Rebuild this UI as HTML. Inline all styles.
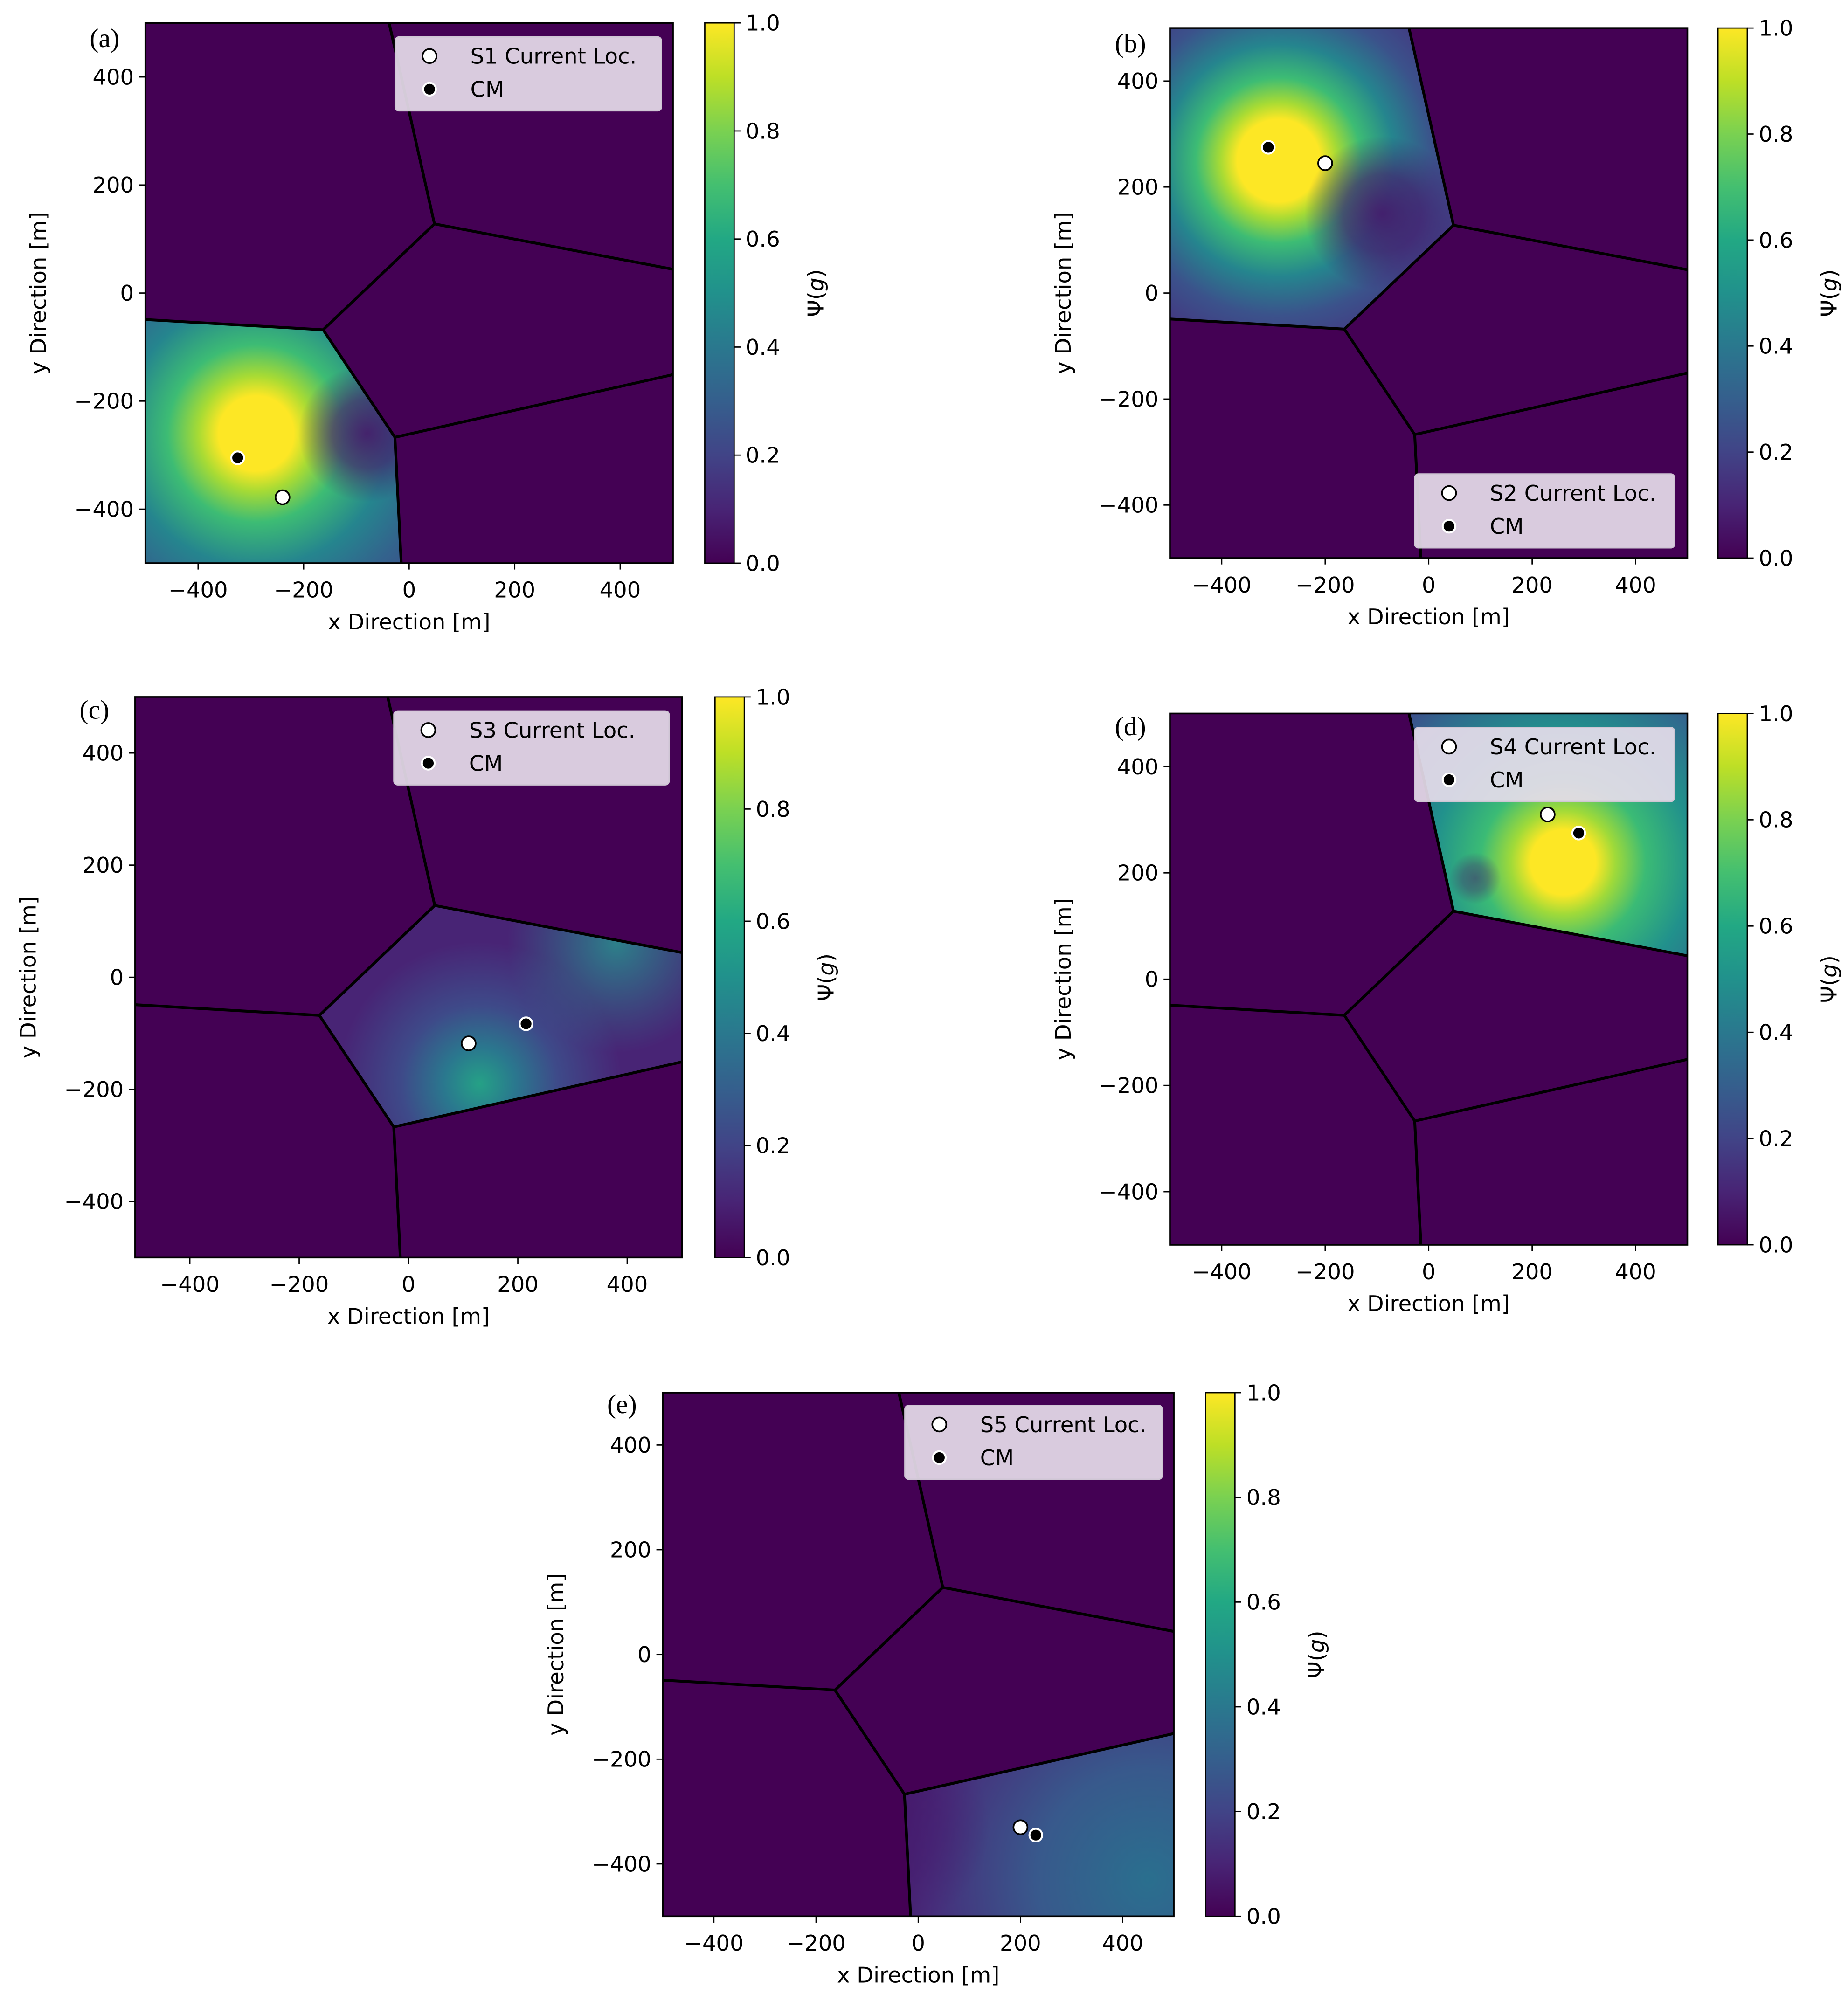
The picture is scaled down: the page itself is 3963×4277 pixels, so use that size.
<!DOCTYPE html>
<html><head><meta charset="utf-8">
<style>
html,body{margin:0;padding:0;background:#fff;}
svg{display:block;}
text{font-family:"DejaVu Sans","Liberation Sans",sans-serif;fill:#000;}
text.serif{font-family:"Liberation Serif",serif;}
</style></head>
<body>
<svg id="fig" xmlns="http://www.w3.org/2000/svg" width="3963" height="4277" viewBox="0 0 1450 1565">
<defs>
<linearGradient id="viridis" x1="0" y1="1" x2="0" y2="0">
<stop offset="0" stop-color="#440154"/><stop offset="0.1" stop-color="#482475"/>
<stop offset="0.2" stop-color="#414487"/><stop offset="0.3" stop-color="#355f8d"/>
<stop offset="0.4" stop-color="#2a788e"/><stop offset="0.5" stop-color="#21918c"/>
<stop offset="0.6" stop-color="#22a884"/><stop offset="0.7" stop-color="#44bf70"/>
<stop offset="0.8" stop-color="#7ad151"/><stop offset="0.9" stop-color="#bddf26"/>
<stop offset="1" stop-color="#fde725"/>
</linearGradient>
</defs>
</svg>
<script>
// Shared Voronoi geometry (data coords, m)
const cellLL = [[-500,-49],[-163,-68],[-27,-267],[-15,-500],[-500,-500]];
const cellUL = [[-500,500],[-38,500],[48,128],[-163,-68],[-500,-49]];
const cellC  = [[48,128],[500,44],[500,-151],[-27,-267],[-163,-68]];
const cellUR = [[-38,500],[500,500],[500,44],[48,128]];
const cellLR = [[-27,-267],[500,-151],[500,-500],[-15,-500]];
const edges = [[[-38,500],[48,128]],[[48,128],[500,44]],[[48,128],[-163,-68]],[[-163,-68],[-500,-49]],[[-163,-68],[-27,-267]],[[-27,-267],[500,-151]],[[-27,-267],[-15,-500]]];
const xTicks = [-400,-200,0,200,400];
const yTicks = [-400,-200,0,200,400];
const cTicks = [0,0.2,0.4,0.6,0.8,1.0];
const panelLabels = ["(a)","(b)","(c)","(d)","(e)"];
const sensorNames = ["S1","S2","S3","S4","S5"];
const currentLocX = [-240,-200,110,230,200];
const currentLocY = [-378,245,-118,310,-330];
const cmX = [-325,-310,215,290,230];
const cmY = [-305,275,-83,275,-345];
const peakX = [-290,-290,130,260,450];
const peakY = [-260,250,-190,220,-430];
// low-value (dark) pockets inside active cells
const darkX = [-80,-90,null,90,-60];
const darkY = [-260,150,null,190,-330];
const darkR = [130,150,0,50,200];

const svg = document.getElementById('fig');
const NS = 'http://www.w3.org/2000/svg';
const defs = svg.querySelector('defs');
function mk(tag, attrs, parent){const e=document.createElementNS(NS,tag);for(const k in attrs)e.setAttribute(k,attrs[k]);(parent||svg).appendChild(e);return e;}
function fmt(v){return (v<0?'\u2212':'')+Math.abs(v);}

const panels = [
 {L:114,T:18,R:528,B:442,cb:553,lab:[82,30],leg:[310,29,209],cell:cellLL,stops:[[0,'#fde725'],[0.17,'#fde725'],[0.26,'#a8db34'],[0.4,'#3dbc74'],[0.6,'#25858e'],[0.8,'#33638d'],[1,'#3e4a89']],rad:420,dop:0.9},
 {L:918,T:22,R:1324,B:438,cb:1348,lab:[887,34],leg:[1110,372,204],cell:cellUL,stops:[[0,'#fde725'],[0.2,'#fde725'],[0.28,'#a8db34'],[0.4,'#3dbc74'],[0.56,'#25858e'],[0.75,'#3b528b'],[1,'#46307e']],rad:400,dop:0.9},
 {L:106,T:547,R:535,B:987,cb:561,lab:[74,557],leg:[309,558,216],cell:cellC,stops:[[0,'#25a186'],[0.25,'#2a788e'],[0.55,'#3e4a89'],[1,'#482475']],rad:260,dop:0},
 {L:918,T:560,R:1324,B:977,cb:1348,lab:[887,570],leg:[1110,571,204],cell:cellUR,stops:[[0,'#fde725'],[0.15,'#fde725'],[0.24,'#a0da39'],[0.38,'#3bbb75'],[0.6,'#21918c'],[0.85,'#31688e'],[1,'#3e4a89']],rad:420,dop:0.5},
 {L:520,T:1093,R:921,B:1504,cb:946,lab:[488,1102],leg:[710,1103,202],cell:cellLR,stops:[[0,'#2a6f8e'],[0.35,'#38598c'],[0.7,'#472d7b'],[1,'#46085c']],rad:620,dop:0.6}
];

panels.forEach((p,i)=>{
  const W=p.R-p.L,H=p.B-p.T;
  const sx=x=>p.L+(x+500)/1000*W, sy=y=>p.T+(500-y)/1000*H;
  const g=mk('g',{});
  
  
  const bg=mk('rect',{x:p.L,y:p.T,width:W,height:H,fill:'#440154'},g);
  
  
  const gid='rg'+i;
  const rg=mk('radialGradient',{id:gid,gradientUnits:'userSpaceOnUse',cx:sx(peakX[i]),cy:sy(peakY[i]),r:p.rad*W/1000},defs);
  p.stops.forEach(s=>mk('stop',{offset:s[0],'stop-color':s[1]},rg));
  const pts=p.cell.map(c=>sx(c[0])+','+sy(c[1])).join(' ');
  const poly=mk('polygon',{points:pts,fill:'url(#'+gid+')'},g);
  
  
  if(darkX[i]!==null && p.dop>0){
    const dg=mk('radialGradient',{id:'dk'+i,gradientUnits:'userSpaceOnUse',cx:sx(darkX[i]),cy:sy(darkY[i]),r:darkR[i]*W/1000},defs);
    mk('stop',{offset:0,'stop-color':'#46156a','stop-opacity':p.dop},dg);
    mk('stop',{offset:0.5,'stop-color':'#46156a','stop-opacity':p.dop*0.7},dg);
    mk('stop',{offset:1,'stop-color':'#46156a','stop-opacity':0},dg);
    mk('polygon',{points:pts,fill:'url(#dk'+i+')'},g);
  }
  if(i===2){
    const rg2=mk('radialGradient',{id:'rg2b',gradientUnits:'userSpaceOnUse',cx:sx(380),cy:sy(60),r:200*W/1000},defs);
    mk('stop',{offset:0,'stop-color':'#2a8a8c','stop-opacity':0.9},rg2);
    mk('stop',{offset:1,'stop-color':'#2a788e','stop-opacity':0},rg2);
    mk('polygon',{points:pts,fill:'url(#rg2b)'},g);
  }
  edges.forEach(e=>{
    const l=mk('line',{x1:sx(e[0][0]),y1:sy(e[0][1]),x2:sx(e[1][0]),y2:sy(e[1][1]),stroke:'#000','stroke-width':2.2},g);
    
    
  });
  mk('rect',{x:p.L,y:p.T,width:W,height:H,fill:'none',stroke:'#000','stroke-width':1.3},g);
  const cm=mk('circle',{cx:sx(cmX[i]),cy:sy(cmY[i]),r:5,fill:'#000',stroke:'#fff','stroke-width':1.5},g);
  
  
  const cl=mk('circle',{cx:sx(currentLocX[i]),cy:sy(currentLocY[i]),r:5.5,fill:'#fff',stroke:'#000','stroke-width':1.3},g);
  
  
  xTicks.forEach(v=>{
    mk('line',{x1:sx(v),y1:p.B,x2:sx(v),y2:p.B+5,stroke:'#000','stroke-width':1},g);
    const t=mk('text',{x:sx(v),y:p.B+27,'font-size':17,'text-anchor':'middle'},g);t.textContent=fmt(v);
    
    
  });
  yTicks.forEach(v=>{
    mk('line',{x1:p.L-5,y1:sy(v),x2:p.L,y2:sy(v),stroke:'#000','stroke-width':1},g);
    const t=mk('text',{x:p.L-9,y:sy(v)+6,'font-size':17,'text-anchor':'end'},g);t.textContent=fmt(v);
    
    
  });
  const xl=mk('text',{x:(p.L+p.R)/2,y:p.B+52,'font-size':17,'text-anchor':'middle'},g);xl.textContent='x Direction [m]';
  
  
  const yx=p.L-78, yy=(p.T+p.B)/2;
  const yl=mk('text',{x:yx,y:yy,'font-size':17,'text-anchor':'middle',transform:'rotate(-90 '+yx+' '+yy+')'},g);yl.textContent='y Direction [m]';
  
  
  const pl=mk('text',{x:p.lab[0],y:p.lab[1]+7,'font-size':21,'text-anchor':'middle','class':'serif'},g);pl.textContent=panelLabels[i];
  
  
  const cw=23;
  const cb=mk('rect',{x:p.cb,y:p.T,width:cw,height:H,fill:'url(#viridis)',stroke:'#000','stroke-width':1},g);
  
  
  cTicks.forEach(v=>{
    const yy2=p.B-v*H;
    mk('line',{x1:p.cb+cw,y1:yy2,x2:p.cb+cw+5,y2:yy2,stroke:'#000','stroke-width':1},g);
    const t=mk('text',{x:p.cb+cw+9,y:yy2+6,'font-size':17},g);t.textContent=v.toFixed(1);
    
    
  });
  const cx=p.cb+cw+70, cy=(p.T+p.B)/2;
  const ct=mk('text',{x:cx,y:cy,'font-size':17,'text-anchor':'middle',transform:'rotate(-90 '+cx+' '+cy+')'},g);
  ct.innerHTML='\u03A8(<tspan font-style="italic">g</tspan>)';
  
  
  const [lx,ly,lw]=p.leg;
  const lg=mk('g',{},g);
  
  
  mk('rect',{x:lx,y:ly,width:lw,height:58,rx:3,fill:'#e6dcea','fill-opacity':0.92,stroke:'#cfc6d4','stroke-width':1},lg);
  mk('circle',{cx:lx+27,cy:ly+15,r:5.5,fill:'#fff',stroke:'#000','stroke-width':1.3},lg);
  mk('circle',{cx:lx+27,cy:ly+41,r:5,fill:'#000',stroke:'#fff','stroke-width':1.5},lg);
  const t1=mk('text',{x:lx+59,y:ly+21,'font-size':17},lg);t1.textContent=sensorNames[i]+' Current Loc.';
  
  
  const t2=mk('text',{x:lx+59,y:ly+47,'font-size':17},lg);t2.textContent='CM';
  
  
});
</script>
</body></html>
